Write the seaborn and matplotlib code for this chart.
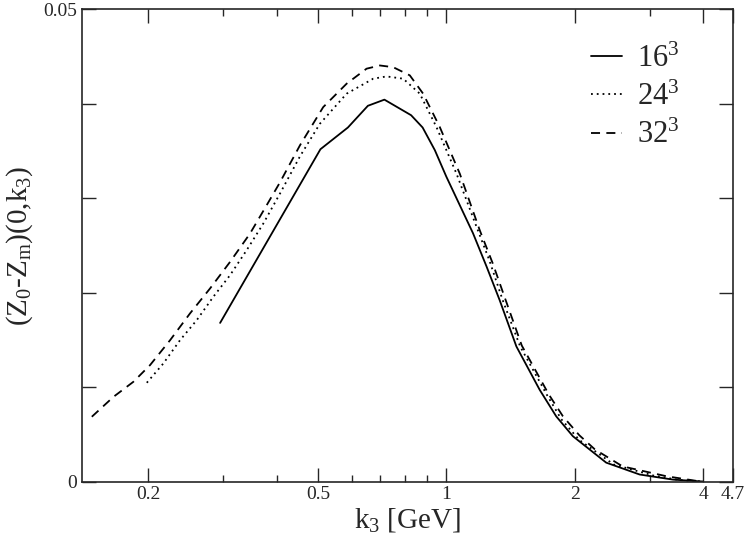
import matplotlib
matplotlib.use("Agg")
import matplotlib.pyplot as plt
import seaborn as sns
from matplotlib.ticker import FixedLocator, FixedFormatter, NullFormatter

# 16^3 lattice
k16 = [0.295, 0.507, 0.588, 0.655, 0.716, 0.827, 0.880, 0.940, 1.0, 1.155, 1.242,
       1.334, 1.46, 1.656, 1.81, 1.98, 2.37, 2.84, 3.40, 4.0]
z16 = [0.0168, 0.0352, 0.0375, 0.0398, 0.04045, 0.0388, 0.0375, 0.0351, 0.0323, 0.0263, 0.0228,
       0.0192, 0.0143, 0.0097, 0.0069, 0.0048, 0.0020, 0.00074, 0.0002, 0.0]

# 24^3 lattice
k24 = [0.1986, 0.2172, 0.2376, 0.260, 0.2843, 0.3112, 0.3404, 0.3724, 0.4075, 0.4539, 0.5055,
       0.5839, 0.674, 0.7244, 0.7923, 0.8668, 0.9484, 1.0566, 1.177, 1.26, 1.356, 1.49,
       1.72, 1.86, 2.05, 2.47, 3.06, 3.52, 3.98]
z24 = [0.01046, 0.01251, 0.01497, 0.01709, 0.01956, 0.02185, 0.0245, 0.02732, 0.0305, 0.03444, 0.0379,
       0.04108, 0.04267, 0.04291, 0.04267, 0.04108, 0.03754, 0.03261, 0.02699, 0.0235, 0.0192, 0.0143,
       0.0092, 0.0066, 0.0044, 0.0018, 0.00063, 0.00016, 0.0]

# 32^3 lattice
k32 = [0.1476, 0.1659, 0.1847, 0.2021, 0.2252, 0.2507, 0.2793, 0.3112, 0.3466, 0.3792, 0.4075,
       0.4539, 0.5146, 0.5839, 0.6503, 0.6986, 0.7506, 0.8213, 0.8825, 0.9656, 1.0755, 1.198,
       1.285, 1.378, 1.503, 1.74, 1.877, 2.05, 2.23, 2.59, 3.28, 3.88]
z32 = [0.00686, 0.00897, 0.01056, 0.01233, 0.01497, 0.0178, 0.02044, 0.02326, 0.02626, 0.02926, 0.03169,
       0.03561, 0.03966, 0.04214, 0.04373, 0.04407, 0.04389, 0.04302, 0.04108, 0.03754, 0.03261, 0.02661,
       0.0231, 0.0192, 0.0144, 0.0092, 0.0069, 0.0049, 0.0034, 0.0016, 0.00056, 0.00005]

x_major = [0.2, 0.5, 1, 2, 4, 4.7]
x_major_labels = ["0.2", "0.5", "1", "2", "4", "4.7"]
x_minor = [0.3, 0.4, 0.6, 0.7, 0.8, 0.9, 3]
y_ticks = [0, 0.01, 0.02, 0.03, 0.04, 0.05]
y_tick_labels = ["0", "", "", "", "", "0.05"]

sns.set_style("ticks")
plt.rcParams["font.family"] = ["Liberation Serif", "DejaVu Serif"]
plt.rcParams["mathtext.fontset"] = "custom"
plt.rcParams["mathtext.rm"] = "Liberation Serif"
plt.rcParams["mathtext.it"] = "Liberation Serif:italic"

fig = plt.figure(figsize=(7.47, 5.42), dpi=100)
ax = fig.add_axes([0.1098, 0.1116, 0.8715, 0.8709])

sns.lineplot(x=k16, y=z16, ax=ax, color="black", lw=1.3, linestyle="-", label=r"16$^3$")
sns.lineplot(x=k24, y=z24, ax=ax, color="black", lw=1.3, linestyle=(0, (1, 2.2)), label=r"24$^3$")
sns.lineplot(x=k32, y=z32, ax=ax, color="black", lw=1.3, linestyle=(0, (5, 3.5)), label=r"32$^3$")

ax.set_xscale("log")
ax.set_xlim(0.14, 4.7)
ax.set_ylim(0, 0.05)
ax.xaxis.set_major_locator(FixedLocator(x_major))
ax.xaxis.set_major_formatter(FixedFormatter(x_major_labels))
ax.xaxis.set_minor_locator(FixedLocator(x_minor))
ax.xaxis.set_minor_formatter(NullFormatter())
ax.yaxis.set_major_locator(FixedLocator(y_ticks))
ax.yaxis.set_major_formatter(FixedFormatter(y_tick_labels))
ax.tick_params(which="both", direction="in", top=True, right=True, labelsize=14, width=1)
ax.tick_params(which="major", length=10)
ax.tick_params(which="minor", length=5)
for s in ax.spines.values():
    s.set_linewidth(1.2)

ax.set_xlabel(r"k$_3$ [GeV]", fontsize=21, labelpad=2)
ax.set_ylabel(r"(Z$_0$-Z$_\mathrm{m}$)(0,k$_3$)", fontsize=21, labelpad=6)

ax.legend(loc="upper left", bbox_to_anchor=(0.755, 0.969), bbox_transform=fig.transFigure,
          frameon=False, fontsize=22, handlelength=1.0, handletextpad=0.5, labelspacing=0.3)

fig.savefig("out.png", dpi=100)
